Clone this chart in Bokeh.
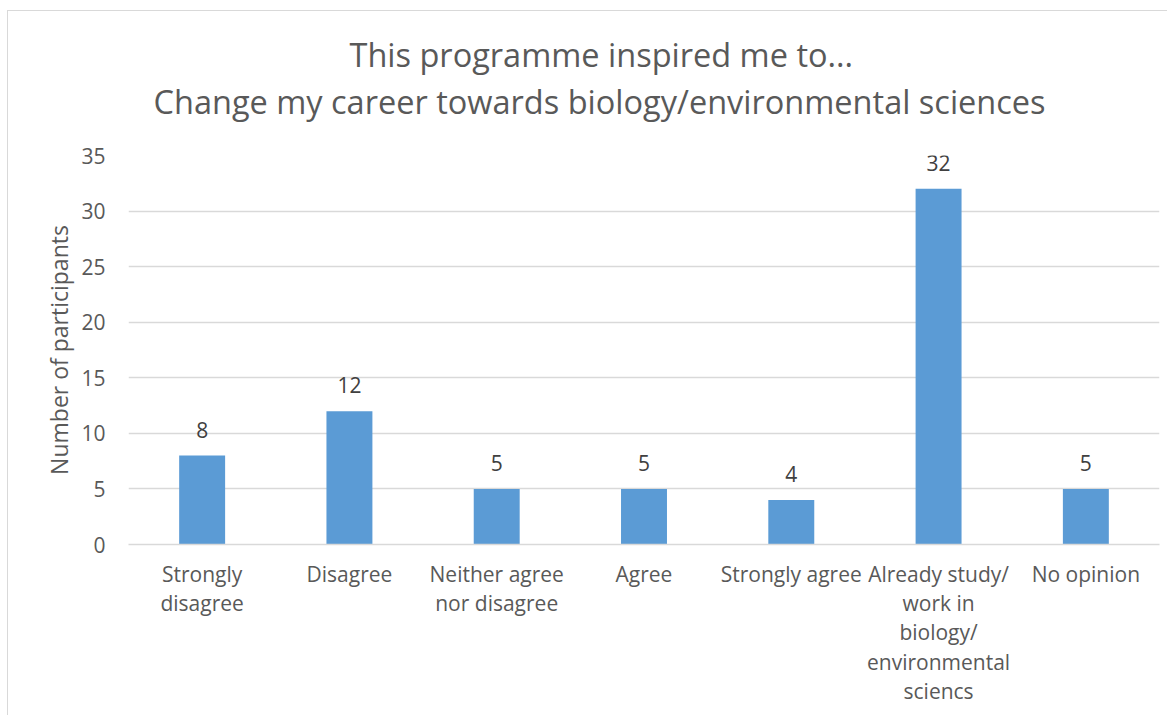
from bokeh.plotting import figure
from bokeh.models import ColumnDataSource, LabelSet, FactorRange, Range1d, Title
from bokeh.core.properties import value
from bokeh.embed import file_html
from bokeh.resources import INLINE

categories = ["Strongly\ndisagree", "Disagree", "Neither agree\nnor disagree", "Agree",
              "Strongly agree", "Already study/\nwork in\nbiology/\nenvironmental\nsciencs", "No opinion"]
counts = [8, 12, 5, 5, 4, 32, 5]
title_lines = ["This programme inspired me to...",
               "Change my career towards biology/environmental sciences"]
y_label = "Number of participants"
y_ticks = [0, 5, 10, 15, 20, 25, 30, 35]

FONT = "Open Sans"
GREY = "#595959"

src = ColumnDataSource(dict(cat=categories, n=counts, lab=[str(c) for c in counts]))

p = figure(x_range=FactorRange(*categories), y_range=Range1d(0, 35),
           width=1160, height=705, output_backend="svg", toolbar_location=None,
           min_border_left=120, min_border_right=9, min_border_top=144, min_border_bottom=172)
p.styles = {"border-left": "1px solid #d9d9d9", "border-top": "1px solid #d9d9d9",
            "margin-left": "7px", "margin-top": "10px"}
p.outline_line_color = None
p.background_fill_color = "white"
p.border_fill_color = "white"

p.vbar(x="cat", top="n", width=0.312, source=src, fill_color="#5B9BD5", line_color=None)

p.add_layout(LabelSet(x="cat", y="n", text="lab", source=src, y_offset=18,
                      text_align="center", text_baseline="alphabetic",
                      text_font=value(FONT), text_font_size=value("21px"), text_color="#404040"))

p.xgrid.grid_line_color = None
p.ygrid.grid_line_color = "#d9d9d9"
p.ygrid.grid_line_width = 1.3
p.yaxis.ticker = y_ticks
p.yaxis.axis_line_color = None
p.yaxis.major_tick_line_color = None
p.yaxis.minor_tick_line_color = None
p.yaxis.major_label_text_font = FONT
p.yaxis.major_label_text_font_size = "21px"
p.yaxis.major_label_text_color = GREY
p.yaxis.major_label_standoff = 17
p.yaxis.axis_label = y_label
p.yaxis.axis_label_text_font = FONT
p.yaxis.axis_label_text_font_size = "23px"
p.yaxis.axis_label_text_font_style = "normal"
p.yaxis.axis_label_text_color = GREY
p.yaxis.axis_label_standoff = 3

p.xaxis.axis_line_color = "#d9d9d9"
p.xaxis.axis_line_width = 1.3
p.xaxis.major_tick_line_color = None
p.xaxis.minor_tick_line_color = None
p.xaxis.major_label_text_font = FONT
p.xaxis.major_label_text_font_size = "21px"
p.xaxis.major_label_text_color = GREY
p.xaxis.major_label_text_line_height = 1.05
p.xaxis.major_label_standoff = 9

# spacer between the frame and the title lines
p.add_layout(Title(text=" ", standoff=19, text_font_size="10px"), "above")
for t, off, lh in zip(reversed(title_lines), [25, 221], [0.9, 1.0]):
    p.add_layout(Title(text=t, align="left", offset=off, standoff=0, text_font=FONT,
                       text_font_size="32.5px", text_font_style="normal",
                       text_line_height=lh, text_color=GREY), "above")

open("out.html", "w").write(file_html(p, INLINE))
